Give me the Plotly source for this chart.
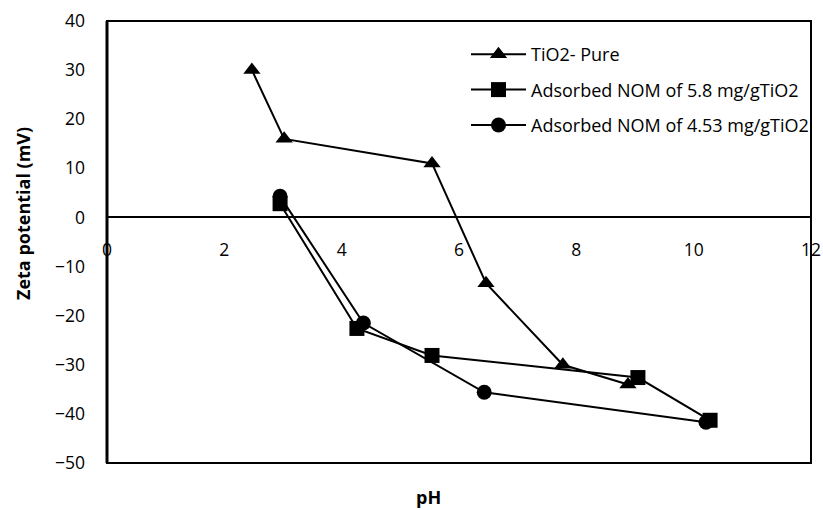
import plotly.graph_objects as go

ph_pure = [2.47, 3.02, 5.54, 6.46, 7.77, 8.88]
zeta_pure = [30, 16, 11, -13.4, -30, -34]

ph_58 = [2.95, 4.26, 5.54, 9.05, 10.28]
zeta_58 = [2.8, -22.6, -28.1, -32.6, -41.3]

ph_453 = [2.95, 4.37, 6.43, 10.21]
zeta_453 = [4.3, -21.5, -35.6, -41.7]

names = ["TiO2- Pure", "Adsorbed NOM of 5.8 mg/gTiO2", "Adsorbed NOM of 4.53 mg/gTiO2"]
symbols = ["triangle-up", "square", "circle"]
xticks = [0, 2, 4, 6, 8, 10, 12]
yticks = [40, 30, 20, 10, 0, -10, -20, -30, -40, -50]

font = "Open Sans"
fig = go.Figure()
for i, (xs, ys) in enumerate([(ph_pure, zeta_pure), (ph_58, zeta_58), (ph_453, zeta_453)]):
    fig.add_trace(go.Scatter(x=xs, y=ys, name=names[i], mode="lines+markers",
                             legendgroup=f"g{i}",
                             line=dict(color="black", width=2),
                             marker=dict(symbol=symbols[i], size=15, color="black")))

W, H = 823, 510
ml, mr, mt, mb = 107, 12, 21, 47
ph_ = H - mt - mb

fig.update_layout(
    width=W, height=H,
    margin=dict(l=ml, r=mr, t=mt, b=mb, autoexpand=False),
    plot_bgcolor="white", paper_bgcolor="white",
    font=dict(family=font, size=17, color="black"),
    showlegend=True,
    legend=dict(x=(466 - ml) / (W - ml - mr), y=(H - mb - 36) / ph_,
                xanchor="left", yanchor="top",
                font=dict(size=18, family=font), bgcolor="rgba(0,0,0,0)",
                tracegroupgap=9, itemwidth=55, traceorder="grouped"),
    xaxis=dict(range=[0, 12], tickvals=xticks, ticktext=[str(v) for v in xticks],
               anchor="free", position=50 / 90, showline=False, showgrid=False,
               zeroline=False, ticks="", ticklabelstandoff=20,
               tickfont=dict(size=17.5, family=font)),
    yaxis=dict(range=[-50, 40], tickvals=yticks, showgrid=False,
               zeroline=True, zerolinecolor="black", zerolinewidth=2,
               showline=False, ticks="", ticklabelstandoff=21,
               tickfont=dict(size=17.5, family=font)),
    annotations=[
        dict(text="<b>pH</b>", x=(428 - ml) / (W - ml - mr), y=0, xref="paper", yref="paper",
             xanchor="center", yanchor="middle", yshift=-(497 - (H - mb)), showarrow=False,
             font=dict(size=18, family=font)),
        dict(text="<b>Zeta potential (mV)</b>", x=0, y=(H - mb - 214) / ph_,
             xref="paper", yref="paper", xanchor="center", yanchor="middle",
             xshift=-(ml - 23), textangle=-90, showarrow=False,
             font=dict(size=18, family=font)),
    ],
    shapes=[
        dict(type="rect", xref="x domain", yref="y domain", x0=0, x1=1, y0=0, y1=1,
             line=dict(color="black", width=2), layer="below"),
        dict(type="line", xref="x domain", yref="y domain", x0=0, x1=0, y0=0, y1=1,
             line=dict(color="black", width=3)),
    ],
)

fig.write_html("out.html", config={"displayModeBar": False},
               post_script="document.body.style.margin='0';document.body.style.overflow='hidden';")
